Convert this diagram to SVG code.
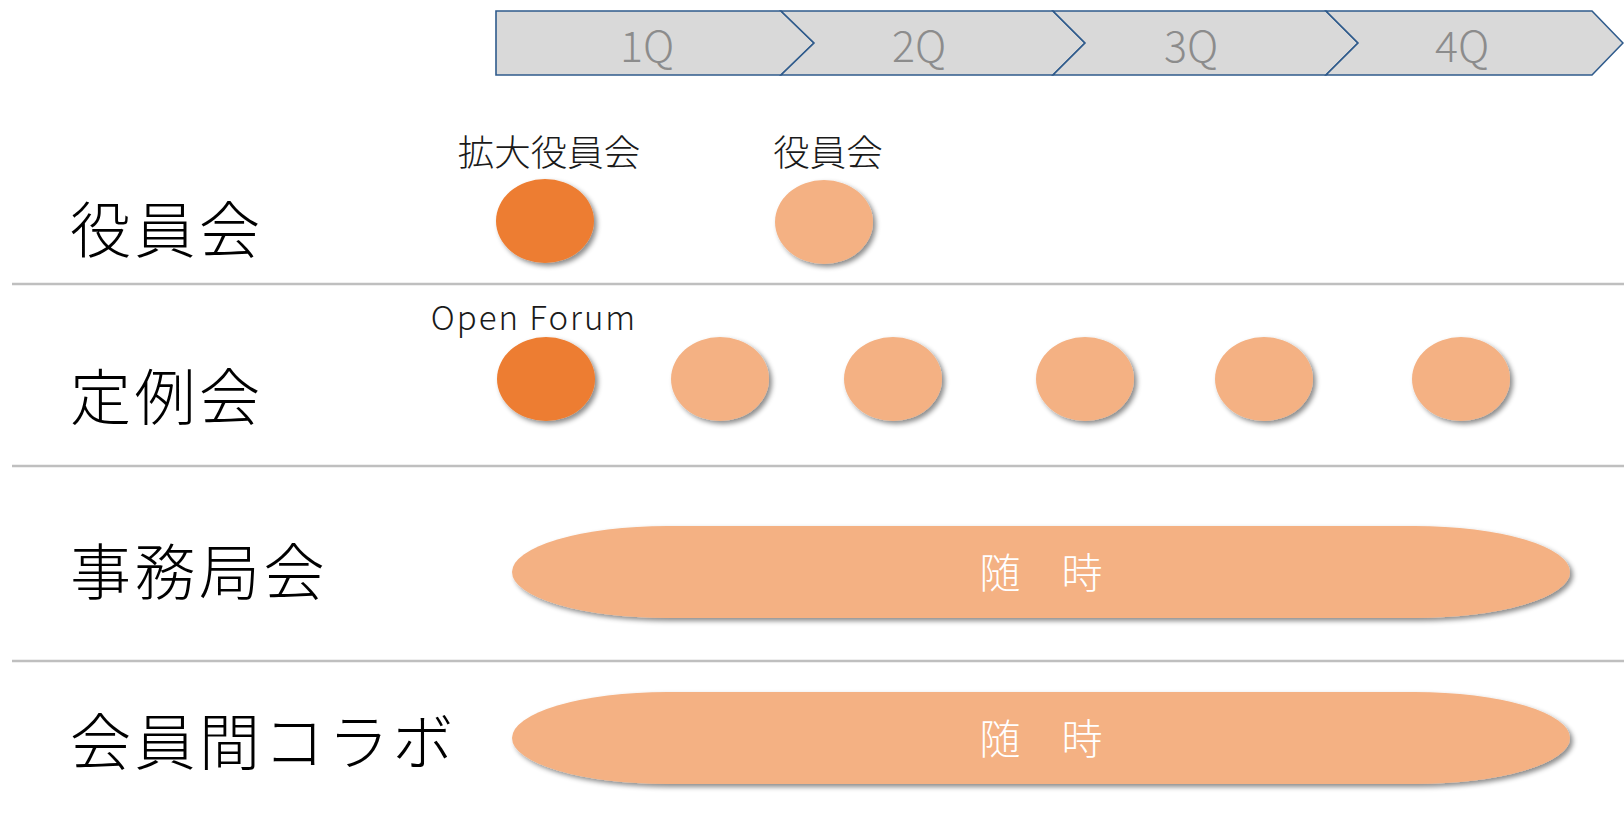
<svg xmlns="http://www.w3.org/2000/svg" width="1624" height="839" viewBox="0 0 1624 839">
<style>
.hdr{fill:#D9D9D9;stroke:#2F5B8C;stroke-width:1.6;stroke-linejoin:miter}
.hdrt{font-family:"Noto Sans CJK JP","Noto Sans",sans-serif;font-size:43px;font-weight:300;fill:#8C8C8C;text-anchor:middle}
.row{font-family:"Noto Sans CJK JP",sans-serif;font-size:61px;font-weight:300;fill:#000;letter-spacing:3.5px}
.lbl{font-family:"Noto Sans CJK JP",sans-serif;font-size:36.5px;font-weight:300;fill:#1a1a1a;text-anchor:middle}
.lbl2{font-family:"Noto Sans CJK JP","Noto Sans",sans-serif;font-size:33px;font-weight:300;fill:#1a1a1a;text-anchor:middle;letter-spacing:2px}
.sep{stroke:#BFBFBF;stroke-width:2.5}
.dark{fill:#ED7D31}
.light{fill:#F4B183}
.pillt{font-family:"Noto Sans CJK JP",sans-serif;font-size:41px;font-weight:300;fill:#FFFFFF;text-anchor:middle}
</style>
<defs>
<filter id="sh" x="-20%" y="-20%" width="150%" height="150%">
<feDropShadow dx="3" dy="3" stdDeviation="2.5" flood-color="#000" flood-opacity="0.45"/>
</filter>
</defs>
<rect width="1624" height="839" fill="#FFFFFF"/>
<g id="header">
<g id="q1"><polygon class="hdr" points="496,11 781,11 814,43 781,75 496,75"/><text class="hdrt" x="647" y="62">1Q</text></g>
<g id="q2"><polygon class="hdr" points="781,11 1053,11 1085,43 1053,75 781,75 814,43"/><text class="hdrt" x="919" y="62">2Q</text></g>
<g id="q3"><polygon class="hdr" points="1053,11 1326,11 1358,43 1326,75 1053,75 1085,43"/><text class="hdrt" x="1191" y="62">3Q</text></g>
<g id="q4"><polygon class="hdr" points="1326,11 1592,11 1623,43 1592,75 1326,75 1358,43"/><text class="hdrt" x="1462" y="62">4Q</text></g>
</g>
<g id="separators">
<line class="sep" x1="12" y1="284" x2="1624" y2="284"/>
<line class="sep" x1="12" y1="466" x2="1624" y2="466"/>
<line class="sep" x1="12" y1="661" x2="1624" y2="661"/>
</g>
<g id="row-labels">
<text class="row" x="70" y="253">役員会</text>
<text class="row" x="70" y="420">定例会</text>
<text class="row" x="70" y="595">事務局会</text>
<text class="row" x="70" y="765">会員間コラボ</text>
</g>
<g id="row1">
<text class="lbl" x="549" y="166">拡大役員会</text>
<text class="lbl" x="828" y="166">役員会</text>
<ellipse class="dark" cx="545" cy="221" rx="49" ry="42" filter="url(#sh)"/>
<ellipse class="light" cx="824" cy="222" rx="49" ry="42" filter="url(#sh)"/>
</g>
<g id="row2">
<text class="lbl2" x="534" y="330">Open Forum</text>
<ellipse class="dark" cx="546" cy="379" rx="49" ry="42" filter="url(#sh)"/>
<ellipse class="light" cx="720" cy="379" rx="49" ry="42" filter="url(#sh)"/>
<ellipse class="light" cx="893" cy="379" rx="49" ry="42" filter="url(#sh)"/>
<ellipse class="light" cx="1085" cy="379" rx="49" ry="42" filter="url(#sh)"/>
<ellipse class="light" cx="1264" cy="379" rx="49" ry="42" filter="url(#sh)"/>
<ellipse class="light" cx="1461" cy="379" rx="49" ry="42" filter="url(#sh)"/>
</g>
<g id="row3">
<rect class="light" x="512" y="526" width="1058" height="92" rx="155" ry="46" filter="url(#sh)"/>
<text class="pillt" x="1041" y="588">随　時</text>
</g>
<g id="row4">
<rect class="light" x="512" y="692" width="1058" height="92" rx="155" ry="46" filter="url(#sh)"/>
<text class="pillt" x="1041" y="754">随　時</text>
</g>
</svg>
